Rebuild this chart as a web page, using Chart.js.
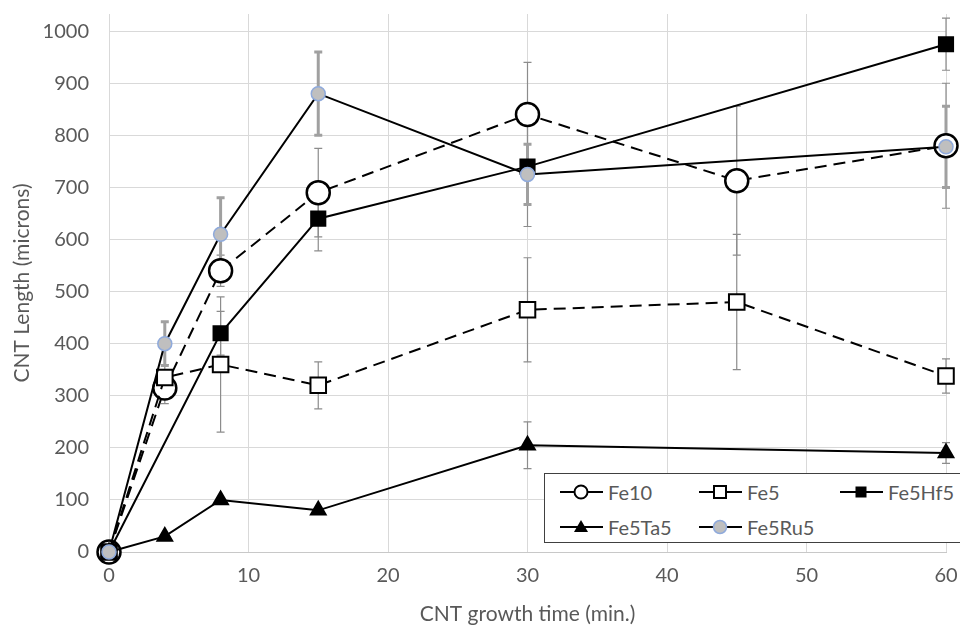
<!DOCTYPE html>
<html>
<head>
<meta charset="utf-8">
<script src="https://cdn.jsdelivr.net/npm/chart.js@4.4.1/dist/chart.umd.min.js"></script>
<style>
  body { margin: 0; background: #fff; }
  #wrap { position: relative; width: 960px; height: 627px; }
  #leyenda {
    position: absolute; left: 544px; top: 473px; width: 420px; height: 68px;
    border: 1.5px solid #404040; background: #fff;
    font-family: Lato, "Open Sans", sans-serif; font-size: 20px; color: #595959;
  }
  .item { position: absolute; display: flex; align-items: center; height: 30px; }
  .item svg { margin-right: 5px; }
</style>
</head>
<body>
<div id="wrap">
  <canvas id="grafico" width="960" height="627"></canvas>
  <div id="leyenda"></div>
</div>
<script>
// Datos
const tiempos = [0, 4, 8, 15, 30, 45, 60];
const nombres = ["Fe10", "Fe5", "Fe5Hf5", "Fe5Ta5", "Fe5Ru5"];

const fe10 = [0, 315, 540, 690, 840, 713, 780];
const fe10Err = [0, 30, 30, 85, 100, 143, 120];
const fe5 = [0, 335, 360, 320, 465, 480, 338];
const fe5Err = [0, 25, 130, 45, 100, 130, 33];
const fe5hf5 = [0, null, 420, 640, 740, null, 975];
const fe5hf5Err = [0, null, 42, 62, 115, null, 50];
const fe5ta5 = [0, 30, 100, 80, 205, null, 190];
const fe5ta5Err = [0, 0, 0, 0, 45, null, 20];
const fe5ru5 = [0, 400, 610, 880, 725, null, 778];
const fe5ru5Err = [0, 42, 70, 80, 58, null, 78];

const ticksX = [0, 10, 20, 30, 40, 50, 60];
const ticksY = [0, 100, 200, 300, 400, 500, 600, 700, 800, 900, 1000];

const fuente = "Lato, 'Open Sans', sans-serif";
const gris = "#595959";

const puntos = (vals) =>
  tiempos.map((t, i) => ({ x: t, y: vals[i] })).filter((p) => p.y !== null);

// barras de error
const barrasError = {
  id: "barrasError",
  beforeDatasetsDraw(chart) {
    const ctx = chart.ctx;
    const sx = chart.scales.x;
    const sy = chart.scales.y;
    chart.data.datasets.forEach((ds) => {
      ctx.save();
      ctx.strokeStyle = ds.errColor;
      ctx.lineWidth = ds.errWidth;
      tiempos.forEach((t, i) => {
        const v = ds.valores[i];
        const e = ds.errores[i];
        if (v === null || !e) return;
        const x = sx.getPixelForValue(t);
        const y1 = sy.getPixelForValue(v + e);
        const y2 = sy.getPixelForValue(v - e);
        ctx.beginPath();
        ctx.moveTo(x, y1);
        ctx.lineTo(x, y2);
        ctx.moveTo(x - 4, y1);
        ctx.lineTo(x + 4, y1);
        ctx.moveTo(x - 4, y2);
        ctx.lineTo(x + 4, y2);
        ctx.stroke();
      });
      ctx.restore();
    });
  },
};

const serie = (label, vals, errs, estilo) => ({
  label,
  data: puntos(vals),
  valores: vals,
  errores: errs,
  borderColor: "#000",
  borderWidth: 2,
  pointBorderWidth: 2,
  pointBorderColor: "#000",
  clip: false,
  spanGaps: true,
  tension: 0,
  errColor: "#8c8c8c",
  errWidth: 1.2,
  ...estilo,
});

const datasets = [
  serie(nombres[0], fe10, fe10Err, {
    borderDash: [12, 7],
    pointStyle: "circle",
    pointRadius: 11.5,
    pointBackgroundColor: "#fff",
    pointBorderWidth: 2.5,
    order: 5,
  }),
  serie(nombres[1], fe5, fe5Err, {
    borderDash: [12, 7],
    pointStyle: "rect",
    pointRadius: 11,
    pointBackgroundColor: "#fff",
    order: 4,
  }),
  serie(nombres[2], fe5hf5, fe5hf5Err, {
    pointStyle: "rect",
    pointRadius: 10,
    pointBackgroundColor: "#000",
    order: 3,
  }),
  serie(nombres[3], fe5ta5, fe5ta5Err, {
    pointStyle: "triangle",
    pointRadius: 8.5,
    pointBackgroundColor: "#000",
    order: 2,
  }),
  serie(nombres[4], fe5ru5, fe5ru5Err, {
    pointStyle: "circle",
    pointRadius: 7,
    pointBackgroundColor: "#bfbfbf",
    pointBorderColor: "#8faadc",
    pointBorderWidth: 1.5,
    errColor: "#a0a0a0",
    errWidth: 3,
    order: 1,
  }),
];

const sinPadding = (s) => {
  s.paddingTop = 0;
  s.paddingBottom = 0;
  s.paddingLeft = 0;
  s.paddingRight = 0;
};

const grafico = new Chart(document.getElementById("grafico"), {
  type: "line",
  data: { datasets },
  plugins: [barrasError],
  options: {
    responsive: false,
    animation: false,
    devicePixelRatio: 1,
    layout: { padding: 0 },
    plugins: { legend: { display: false }, tooltip: { enabled: false } },
    scales: {
      x: {
        type: "linear",
        min: 0,
        max: 60,
        afterBuildTicks: (s) => { s.ticks = ticksX.map((v) => ({ value: v })); },
        afterFit: (s) => { s.height = 75; sinPadding(s); },
        grid: { color: "#d9d9d9", drawTicks: false },
        border: { color: "#c8c8c8" },
        ticks: { color: gris, padding: 12, font: { family: fuente, size: 20 } },
        title: {
          display: true,
          text: "CNT growth time (min.)",
          color: gris,
          font: { family: fuente, size: 21 },
          padding: { top: 0, bottom: 0 },
        },
      },
      y: {
        min: 0,
        max: 1033,
        afterBuildTicks: (s) => { s.ticks = ticksY.map((v) => ({ value: v })); },
        afterFit: (s) => { s.width = 109; sinPadding(s); },
        grid: { color: "#d9d9d9", drawTicks: false },
        border: { color: "#d9d9d9" },
        ticks: {
          color: gris,
          padding: 20,
          font: { family: fuente, size: 20 },
          callback: (v) => String(v),
        },
        title: {
          display: true,
          text: "CNT Length (microns)",
          color: gris,
          font: { family: fuente, size: 21 },
          padding: { top: 10, bottom: 0 },
        },
      },
    },
  },
});

// leyenda con línea y marcador
const iconos = [
  '<circle cx="21" cy="15" r="6.5" fill="#fff" stroke="#000" stroke-width="2"/>',
  '<rect x="15" y="9" width="12" height="12" fill="#fff" stroke="#000" stroke-width="2"/>',
  '<rect x="15.5" y="9.5" width="11" height="11" fill="#000"/>',
  '<polygon points="21,8 28,20 14,20" fill="#000"/>',
  '<circle cx="21" cy="15" r="6.5" fill="#bfbfbf" stroke="#8faadc" stroke-width="1.5"/>',
];
const posiciones = [[15, 3], [154, 3], [295, 3], [15, 38], [154, 38]];
const leyenda = document.getElementById("leyenda");
nombres.forEach((n, i) => {
  const div = document.createElement("div");
  div.className = "item";
  div.style.left = posiciones[i][0] + "px";
  div.style.top = posiciones[i][1] + "px";
  div.innerHTML =
    '<svg width="43" height="30"><line x1="0" y1="15" x2="43" y2="15" stroke="#000" stroke-width="2"/>' +
    iconos[i] + "</svg><span>" + n + "</span>";
  leyenda.appendChild(div);
});
</script>
</body>
</html>
